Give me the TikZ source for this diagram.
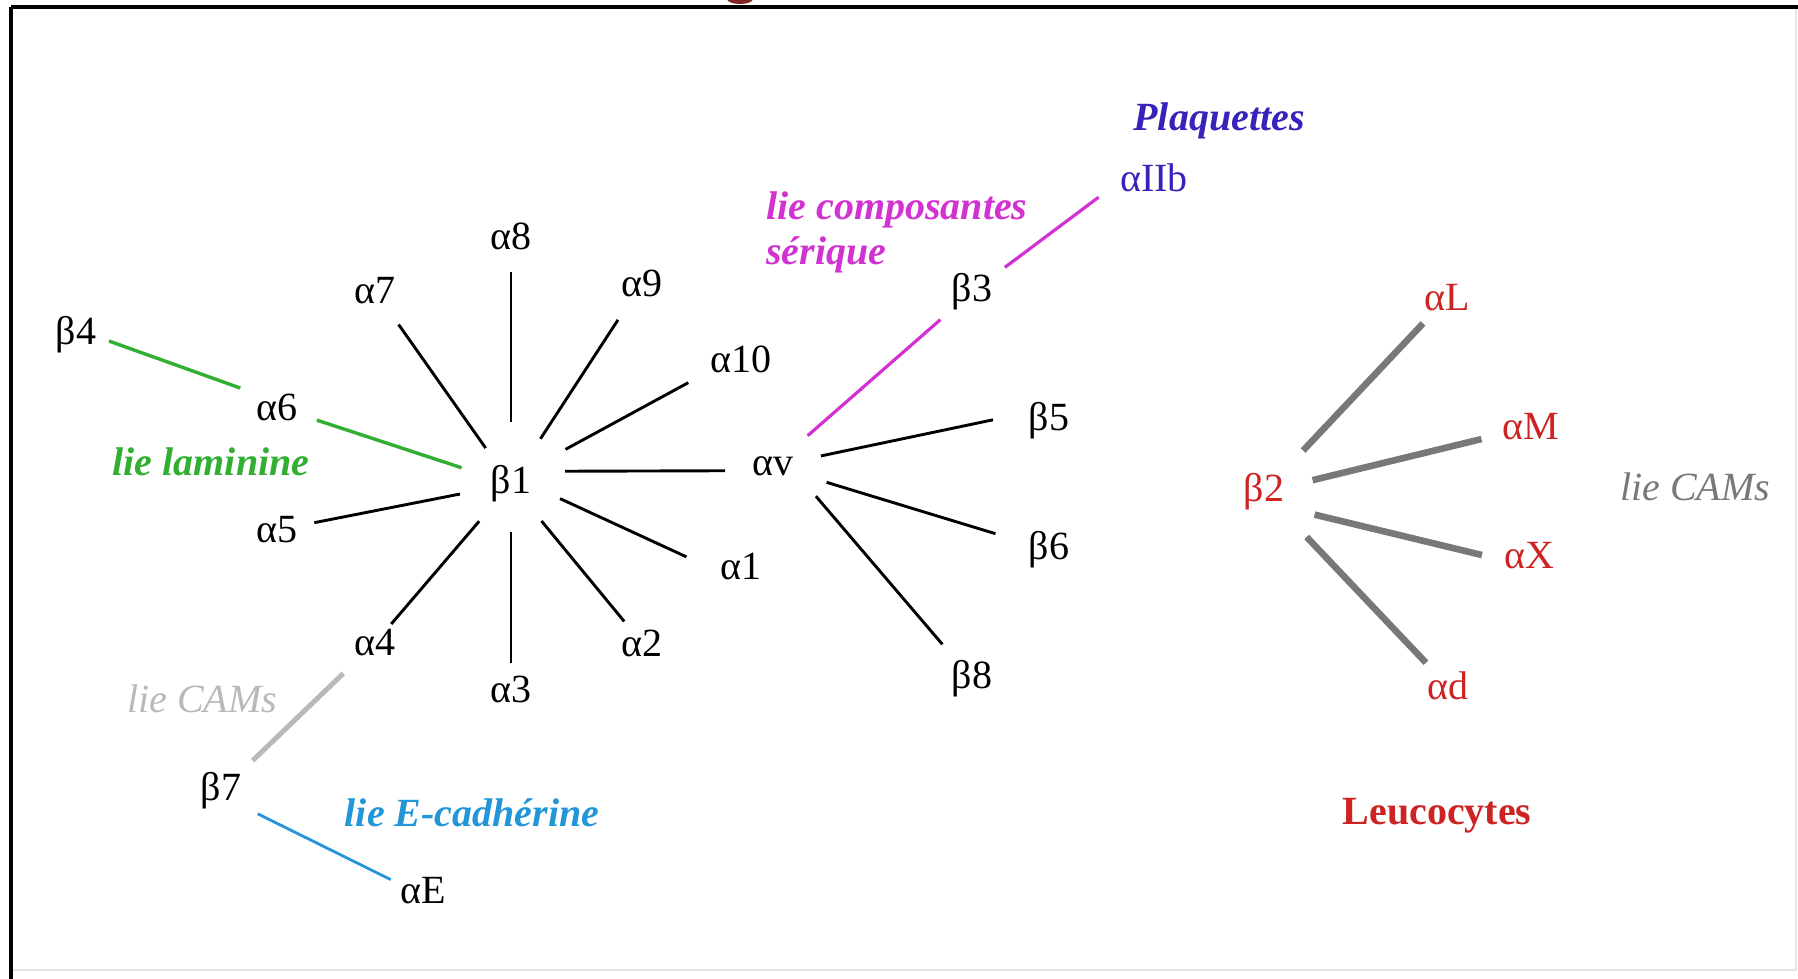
\documentclass[tikz,border=0pt]{standalone}
\usepackage{fontspec}
\setmainfont{Liberation Serif}
\definecolor{cgreen}{RGB}{50,175,50}
\definecolor{cmag}{RGB}{210,50,210}
\definecolor{cplaq}{RGB}{55,35,185}
\definecolor{cred}{RGB}{205,35,35}
\definecolor{cgray}{RGB}{120,120,120}
\definecolor{clgray}{RGB}{185,185,185}
\definecolor{cblue}{RGB}{35,150,215}
\definecolor{cdred}{RGB}{130,35,35}
\tikzset{
  lbl/.style={inner sep=0pt, font=\fontsize{20}{24}\selectfont},
  note/.style={inner sep=0pt, font=\fontsize{20}{22.5}\selectfont\bfseries\itshape},
  blk/.style={draw=black, line width=1.45pt},
  grn/.style={draw=cgreen, line width=1.7pt},
  mag/.style={draw=cmag, line width=1.6pt},
  gry/.style={draw=cgray, line width=3.3pt},
  lgry/.style={draw=clgray, line width=2.5pt},
  blu/.style={draw=cblue, line width=1.4pt},
  frame/.style={draw=black, line width=1.6pt}
}
\begin{document}
\begin{tikzpicture}[x=0.5pt,y=-0.5pt]
\useasboundingbox[fill=white] (0,0) rectangle (1798,979);
% cut-off title fragment
\fill[cdred] (740,-1) ellipse [x radius=13, y radius=5];
% frame
\draw[frame] (11,7) -- (1798,7);
\draw[frame] (11,7) -- (11,979);
\draw[draw=black!10, line width=0.8pt] (1796,9) -- (1796,970) -- (13,970);

% nodes
\node[lbl] (b1) at (511,484) {β1};
\node[lbl] (a8) at (511,236) {α8};
\node[lbl] (a7) at (375,291) {α7};
\node[lbl] (a9) at (642,283) {α9};
\node[lbl] (a10) at (741,359) {α10};
\node[lbl] (a6) at (277,407) {α6};
\node[lbl] (b4) at (76,335) {β4};
\node[lbl] (a5) at (277,530) {α5};
\node[lbl] (a4) at (375,643) {α4};
\node[lbl] (a3) at (511,689) {α3};
\node[lbl] (a2) at (642,643) {α2};
\node[lbl] (a1) at (741,566) {α1};
\node[lbl] (av) at (773,466) {αv};
\node[lbl] (b3) at (972,292) {β3};
\node[lbl, text=cplaq] (aIIb) at (1154,178) {αIIb};
\node[lbl] (b5) at (1049,421) {β5};
\node[lbl] (b6) at (1049,550) {β6};
\node[lbl] (b8) at (972,679) {β8};
\node[lbl, text=cred] (b2) at (1264,492) {β2};
\node[lbl, text=cred] (aL) at (1447,298) {αL};
\node[lbl, text=cred] (aM) at (1531,427) {αM};
\node[lbl, text=cred] (aX) at (1529,556) {αX};
\node[lbl, text=cred] (ad) at (1448,686) {αd};
\node[lbl] (b7) at (221,791) {β7};
\node[lbl] (aE) at (423,891) {αE};

% labels
\node[note, text=cgreen] (tlam) at (211,462) {lie laminine};
\node[note, text=cmag, align=left, anchor=west] (tcomp) at (766,232) {lie composantes\\sérique};
\node[note, text=cplaq] (tplaq) at (1219,121) {Plaquettes};
\node[lbl, font=\fontsize{20}{24}\selectfont\bfseries, text=cred] (tleu) at (1437,816) {Leucocytes};
\node[lbl, font=\fontsize{20}{24}\selectfont\itshape, text=cgray] (tcamr) at (1695,487) {lie CAMs};
\node[lbl, font=\fontsize{20}{24}\selectfont\itshape, text=clgray] (tcaml) at (202,699) {lie CAMs};
\node[note, text=cblue] (tecad) at (472,813) {lie E-cadhérine};

% connectors around beta1
\draw[blk, shorten <=31pt, shorten >=18pt] (b1.center) -- (a8.center);
\draw[blk, shorten <=22pt, shorten >=20.5pt] (b1.center) -- (a7.center);
\draw[blk, shorten <=27pt, shorten >=22pt] (b1.center) -- (a9.center);
\draw[blk, shorten <=31pt, shorten >=30pt] ([yshift=2.5pt]b1.center) -- ([yshift=2.5pt]a10.center);
\draw[blk, shorten <=27pt, shorten >=24pt] ([yshift=6.3pt]b1.center) -- ([yshift=-2.3pt]av.center);
\draw[blk, shorten <=27pt, shorten >=30pt] ([yshift=4pt]b1.center) -- ([yshift=-8pt]a1.center);
\draw[blk, shorten <=24pt, shorten >=14pt] (b1.center) -- (a2.center);
\draw[blk, shorten <=24pt, shorten >=13pt] (b1.center) -- (a3.center);
\draw[blk, shorten <=24.5pt, shorten >=12.5pt] (b1.center) -- (a4.center);
\draw[blk, shorten <=26pt, shorten >=19pt] (b1.center) -- (a5.center);
\draw[grn, shorten <=26pt, shorten >=21pt] (b1.center) -- (a6.center);
\draw[grn, shorten <=19.5pt, shorten >=17.5pt] ([yshift=2.9pt]a6.center) -- ([yshift=2.9pt]b4.center);

% connectors around alpha v
\draw[mag, shorten <=23pt, shorten >=21pt] (av.center) -- (b3.center);
\draw[mag, shorten <=20.5pt] (b3.center) -- ([xshift=-27.7pt,yshift=-9.6pt]aIIb.center);
\draw[blk, shorten <=24.5pt] (av.center) -- ([xshift=-28pt,yshift=0.6pt]b5.center);
\draw[blk, shorten <=28pt, shorten >=28pt] (av.center) -- (b6.center);
\draw[blk, shorten <=33pt, shorten >=22.8pt] ([yshift=10pt]av.center) -- (b8.center);

% beta2 group
\draw[gry, shorten <=28.5pt, shorten >=17.5pt] (b2.center) -- (aL.center);
\draw[gry, shorten <=25pt, shorten >=25.5pt] (b2.center) -- (aM.center);
\draw[gry, shorten <=26pt, shorten >=24.2pt] ([yshift=-5.2pt]b2.center) -- ([yshift=-5.2pt]aX.center);
\draw[gry, shorten <=31pt, shorten >=16pt] (b2.center) -- (ad.center);

% beta7 group
\draw[lgry, shorten <=22pt, shorten >=22pt] (a4.center) -- (b7.center);
\draw[blu, shorten <=20.5pt, shorten >=18pt] ([yshift=-2.3pt]b7.center) -- ([yshift=-2.3pt]aE.center);
\end{tikzpicture}
\end{document}
